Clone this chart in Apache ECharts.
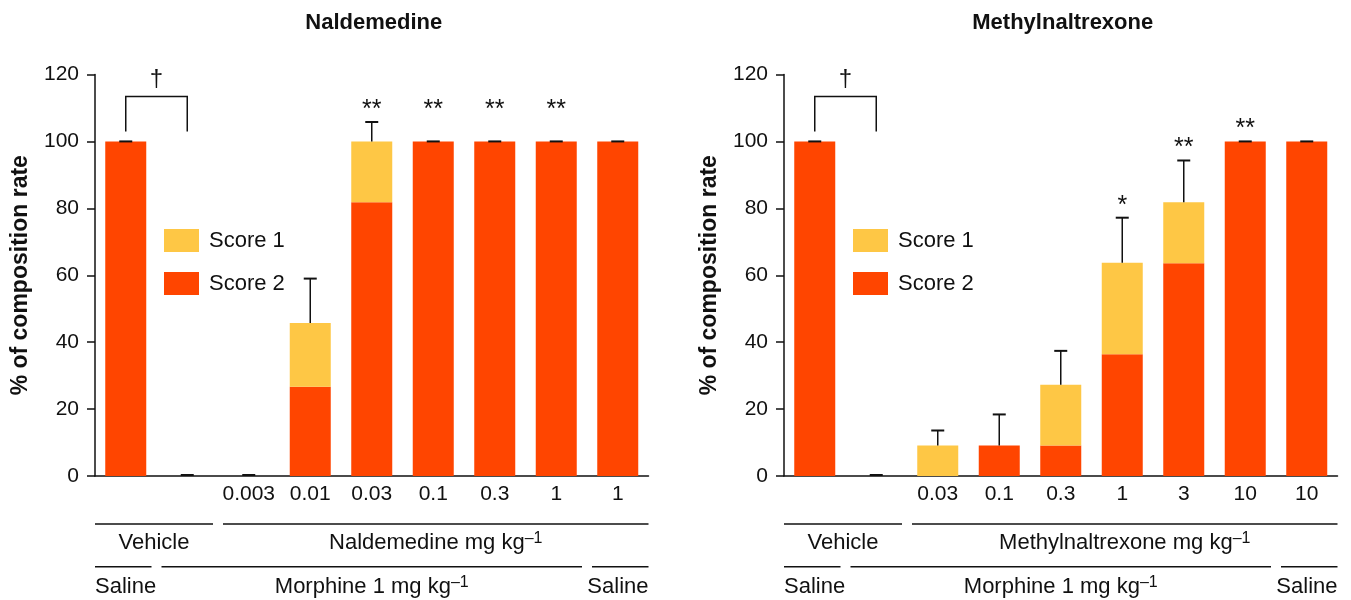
<!DOCTYPE html>
<html>
<head>
<meta charset="utf-8">
<title>Naldemedine and Methylnaltrexone composition rate</title>
<script src="https://cdn.jsdelivr.net/npm/echarts@6/dist/echarts.min.js"></script>
<style>
  html, body { margin: 0; padding: 0; background: #ffffff; }
  #main { width: 1351px; height: 600px; }
</style>
</head>
<body>
<div id="main"></div>
<script>
// ---- data -------------------------------------------------------------
const scoreNames = ['Score 1', 'Score 2'];
const yTickStep = 20;
const yMax = 120;

// Naldemedine panel (Saline, Vehicle, then doses in mg/kg, then Saline + drug)
const naldCategories = ['', '', '0.003', '0.01', '0.03', '0.1', '0.3', '1', '1'];
const naldScore2 = [100, 0, 0, 26.7, 81.8, 100, 100, 100, 100];
const naldScore1 = [0, 0, 0, 19.0, 18.2, 0, 0, 0, 0];
const naldSem    = [0, 0, 0, 13.3, 5.8, 0, 0, 0, 0];
const naldMarks  = ['', '', '', '', '**', '**', '**', '**', ''];

// Methylnaltrexone panel
const mntxCategories = ['', '', '0.03', '0.1', '0.3', '1', '3', '10', '10'];
const mntxScore2 = [100, 0, 0, 9.1, 9.1, 36.4, 63.6, 100, 100];
const mntxScore1 = [0, 0, 9.1, 0, 18.2, 27.3, 18.2, 0, 0];
const mntxSem    = [0, 0, 4.5, 9.3, 10.1, 13.5, 12.5, 0, 0];
const mntxMarks  = ['', '', '', '', '', '*', '**', '**', ''];

// Saline vs Vehicle comparison bracket (data units)
const vehicleBracket = { from: 0, to: 1, low: 103, high: 113.4, mark: '\u2020' };

// ---- styling ----------------------------------------------------------
const FONT = '"Liberation Sans", Arial, Helvetica, sans-serif';
const INK = '#111111';
const RED = '#FF4500';
const YELLOW = '#FEC745';
const FS = 21;
const FS_TEXT = 22;

const panels = [
  { title: 'Naldemedine', drug: 'Naldemedine', cats: naldCategories, s1: naldScore1, s2: naldScore2,
    sem: naldSem, marks: naldMarks, sharedMarkLevel: true, left: 95 },
  { title: 'Methylnaltrexone', drug: 'Methylnaltrexone', cats: mntxCategories, s1: mntxScore1, s2: mntxScore2,
    sem: mntxSem, marks: mntxMarks, sharedMarkLevel: false, left: 784 }
];
const gridWidth = 553.5;
const gridTop = 74.5;
const gridHeight = 401.5;

const chart = echarts.init(document.getElementById('main'), null, { renderer: 'canvas' });

function errorBars(p) {
  return function (params, api) {
    const i = api.value(0);
    const top = api.value(1);
    const sem = api.value(2);
    const base = api.coord([i, top]);
    const tip = api.coord([i, top + sem]);
    const half = 6.5;
    const children = [];
    if (sem > 0) {
      children.push({ type: 'line', shape: { x1: base[0], y1: base[1], x2: tip[0], y2: tip[1] },
        style: { stroke: INK, lineWidth: 1.5 } });
    }
    children.push({ type: 'line', shape: { x1: tip[0] - half, y1: tip[1] - (top === 0 ? 1 : 0), x2: tip[0] + half, y2: tip[1] - (top === 0 ? 1 : 0) },
      style: { stroke: INK, lineWidth: 2 } });
    return { type: 'group', children: children };
  };
}

function markLabels(p) {
  const tips = p.s1.map((v, i) => v + p.s2[i] + p.sem[i]);
  const sharedTip = Math.max(...tips.filter((t, i) => p.marks[i]));
  return function (params, api) {
    const i = api.value(0);
    const text = p.marks[params.dataIndex];
    if (!text) return null;
    const level = p.sharedMarkLevel ? sharedTip : tips[params.dataIndex];
    const pt = api.coord([i, level]);
    return { type: 'text', x: pt[0], y: pt[1] - 12,
      style: { text: text, fill: INK, font: '25px ' + FONT, textAlign: 'center', textVerticalAlign: 'middle' } };
  };
}

function bracket(params, api) {
  const a = api.coord([vehicleBracket.from, vehicleBracket.low]);
  const b = api.coord([vehicleBracket.to, vehicleBracket.high]);
  const lowY = a[1], highY = b[1];
  return { type: 'group', children: [
    { type: 'polyline', shape: { points: [[a[0], lowY], [a[0], highY], [b[0], highY], [b[0], lowY]] },
      style: { stroke: INK, lineWidth: 1.5, fill: null } },
    { type: 'text', x: (a[0] + b[0]) / 2, y: highY - 17,
      style: { text: vehicleBracket.mark, fill: INK, font: '24px ' + FONT, textAlign: 'center', textVerticalAlign: 'middle' } }
  ] };
}

const option = {
  animation: false,
  backgroundColor: '#ffffff',
  textStyle: { fontFamily: FONT, color: INK },
  title: panels.map(p => ({
    text: p.title, left: p.left + gridWidth / 2 - 3, top: 7, textAlign: 'center',
    textStyle: { fontSize: 22, fontWeight: 'bold', color: INK, fontFamily: FONT }
  })),
  legend: panels.map(p => ({
    data: scoreNames, orient: 'vertical', left: p.left + 69, top: 229, padding: 0,
    itemWidth: 35, itemHeight: 23, itemGap: 20, icon: 'rect', selectedMode: false,
    textStyle: { fontSize: FS_TEXT, color: INK, fontFamily: FONT, padding: [0, 0, 0, 5] }
  })),
  grid: panels.map(p => ({ left: p.left, top: gridTop, width: gridWidth, height: gridHeight, containLabel: false })),
  xAxis: panels.map((p, k) => ({
    type: 'category', gridIndex: k, data: p.cats,
    axisLine: { lineStyle: { color: INK, width: 1.5 } },
    axisTick: { inside: true, length: 8, interval: 0, lineStyle: { color: INK, width: 1.5 } },
    axisLabel: { interval: 0, fontSize: FS, color: INK, margin: 8, fontFamily: FONT },
    splitLine: { show: false }
  })),
  yAxis: panels.map((p, k) => ({
    type: 'value', gridIndex: k, min: 0, max: yMax, interval: yTickStep,
    name: '% of composition rate', nameLocation: 'middle', nameGap: 63,
    nameTextStyle: { fontSize: 23, fontWeight: 'bold', color: INK, fontFamily: FONT },
    axisLine: { show: true, lineStyle: { color: INK, width: 1.5 } },
    axisTick: { show: true, length: 8, lineStyle: { color: INK, width: 1.5 } },
    axisLabel: { fontSize: FS, color: INK, margin: 16, fontFamily: FONT },
    splitLine: { show: false }
  })),
  series: []
};

panels.forEach((p, k) => {
  option.series.push({
    name: 'Score 2', type: 'bar', xAxisIndex: k, yAxisIndex: k, stack: 'score' + k,
    barWidth: 41, data: p.s2, itemStyle: { color: RED }, z: 2
  });
  option.series.push({
    name: 'Score 1', type: 'bar', xAxisIndex: k, yAxisIndex: k, stack: 'score' + k,
    barWidth: 41, data: p.s1, itemStyle: { color: YELLOW }, z: 2
  });
  option.series.push({
    type: 'custom', xAxisIndex: k, yAxisIndex: k, clip: false, z: 5,
    renderItem: errorBars(p),
    data: p.s1.map((v, i) => [i, v + p.s2[i], p.sem[i]])
  });
  option.series.push({
    type: 'custom', xAxisIndex: k, yAxisIndex: k, clip: false, z: 5,
    renderItem: markLabels(p),
    data: p.s1.map((v, i) => [i, v + p.s2[i]])
  });
  option.series.push({
    type: 'custom', xAxisIndex: k, yAxisIndex: k, clip: false, z: 5,
    renderItem: bracket,
    data: [[vehicleBracket.from, vehicleBracket.high]]
  });
});

chart.setOption(option);

// ---- treatment group labels under the category axis -------------------
const supRich = {
  sup: { fontSize: 16, lineHeight: 14, verticalAlign: 'top', fontFamily: FONT, fill: INK }
};
function groupRows(p) {
  return [
    { dy: 48, ty: 66.7, items: [
      { text: 'Vehicle', from: 0, to: 1 },
      { text: p.drug + ' mg kg{sup|\u20131}', from: 2, to: 8 }
    ] },
    { dy: 90.7, ty: 111, items: [
      { text: 'Saline', from: 0, to: 0, align: 'left' },
      { text: 'Morphine 1 mg kg{sup|\u20131}', from: 1, to: 7 },
      { text: 'Saline', from: 8, to: 8, align: 'right' }
    ] }
  ];
}

const graphics = [];
panels.forEach((p, k) => {
  const c0 = chart.convertToPixel({ xAxisIndex: k }, 0);
  const c1 = chart.convertToPixel({ xAxisIndex: k }, 1);
  const half = (c1 - c0) / 2;
  const zeroY = chart.convertToPixel({ yAxisIndex: k }, 0);
  const n = p.cats.length;
  groupRows(p).forEach(row => {
    row.items.forEach(it => {
      const xa = chart.convertToPixel({ xAxisIndex: k }, it.from) - half + (it.from === 0 ? 0 : 5);
      const xb = chart.convertToPixel({ xAxisIndex: k }, it.to) + half - (it.to === n - 1 ? 0 : 5);
      graphics.push({ type: 'line', shape: { x1: xa, y1: zeroY + row.dy, x2: xb, y2: zeroY + row.dy },
        style: { stroke: INK, lineWidth: 1.5 } });
      const align = it.align || 'center';
      const tx = align === 'left' ? xa : align === 'right' ? xb : (xa + xb) / 2;
      graphics.push({ type: 'text', x: tx, y: zeroY + row.ty,
        style: { text: it.text, rich: supRich, fill: INK, font: FS_TEXT + 'px ' + FONT, lineHeight: 24,
          textAlign: align, textVerticalAlign: 'middle' } });
    });
  });
});
chart.setOption({ graphic: graphics });
</script>
</body>
</html>
